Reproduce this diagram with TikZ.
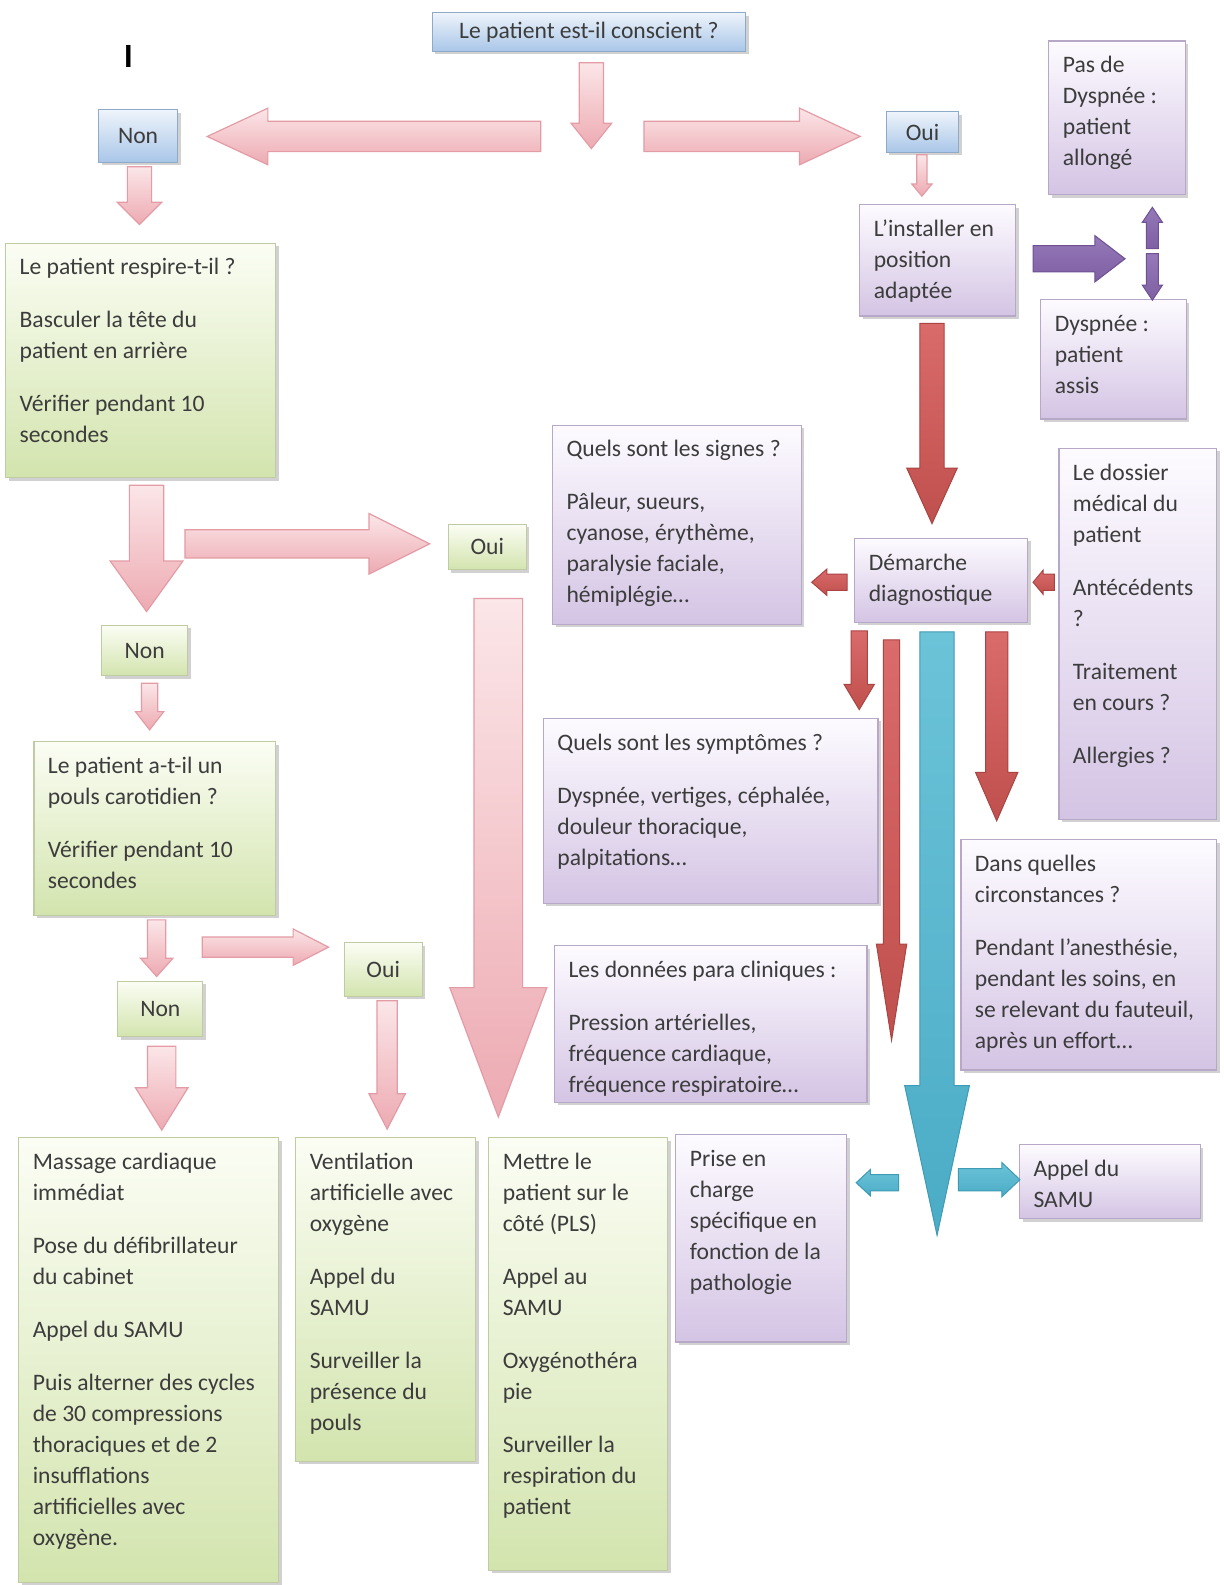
\documentclass[tikz,border=0pt]{standalone}
\usepackage{fontspec}
\setmainfont{Carlito}
\usetikzlibrary{calc,shadows}
\def\U{0.50537}
\definecolor{txt}{HTML}{3C3C3C}
\definecolor{blueT}{HTML}{EEF4FB}\definecolor{blueD}{HTML}{A9C6E8}\definecolor{blueB}{HTML}{8FA9C8}
\definecolor{greenT}{HTML}{FBFDF4}\definecolor{greenD}{HTML}{D3E4AE}\definecolor{greenB}{HTML}{BFCCA3}
\definecolor{purpT}{HTML}{FDFBFF}\definecolor{purpD}{HTML}{D4C4E4}\definecolor{purpB}{HTML}{B6A8C6}
\definecolor{pinkT}{HTML}{FBE6E8}\definecolor{pinkD}{HTML}{EDAAB2}\definecolor{pinkB}{HTML}{E39CA5}
\definecolor{redT}{HTML}{D96B6B}\definecolor{redD}{HTML}{C0504D}\definecolor{redB}{HTML}{A94442}
\definecolor{violT}{HTML}{9579B8}\definecolor{violD}{HTML}{7E5FA3}\definecolor{violB}{HTML}{6E5093}
\definecolor{cyanT}{HTML}{6BC3D8}\definecolor{cyanD}{HTML}{4BACC6}\definecolor{cyanB}{HTML}{3F9AB3}
\tikzset{
 boxbase/.style={line width=0.6pt, font=\fontsize{11.8}{15.5}\selectfont, text=txt,
   drop shadow={shadow xshift=1.5pt, shadow yshift=-1.5pt, fill=black!45, opacity=0.4}},
 bluebox/.style={boxbase, draw=blueB, top color=blueT, bottom color=blueD},
 greenbox/.style={boxbase, draw=greenB, top color=greenT, bottom color=greenD},
 purplebox/.style={boxbase, draw=purpB, top color=purpT, bottom color=purpD},
 pinkarrow/.style={top color=pinkT, bottom color=pinkD, draw=pinkB, line width=0.6pt},
 redarrow/.style={top color=redT, bottom color=redD, draw=redB, line width=0.5pt},
 violarrow/.style={top color=violT, bottom color=violD, draw=violB, line width=0.5pt},
 cyanarrow/.style={top color=cyanT, bottom color=cyanD, draw=cyanB, line width=0.5pt},
}
% text box: name, style, x1, y1, x2, y2, text
\newcommand\tbox[7]{%
 \pgfmathsetmacro\bw{(#5-#3)*\U-14}%
 \pgfmathsetmacro\bh{(#6-#4)*\U-10}%
 \node[#2, anchor=north west, inner xsep=7pt, inner ysep=5pt] (#1) at (#3,#4)
   {\begin{minipage}[c][\bh pt][t]{\bw pt}\raggedright\hyphenpenalty=10000\exhyphenpenalty=10000\hbadness=10000\strut #7\end{minipage}};}
% centred box
\newcommand\cbox[7]{%
 \pgfmathsetmacro\bw{(#5-#3)*\U}\pgfmathsetmacro\bh{(#6-#4)*\U}%
 \node[#2, anchor=north west, minimum width=\bw pt, minimum height=\bh pt, inner sep=0pt, align=center] (#1) at (#3,#4) {#7};}
% block arrow: style, from, to, shaft half width, head half width, head length (px)
\newcommand\barrow[6]{%
 \path let \p1=(#2), \p2=(#3), \n1={atan2(\y2-\y1,\x2-\x1)}, \n2={veclen(\x2-\x1,\y2-\y1)} in
  \pgfextra{\xdef\baAng{\n1}\xdef\baLen{\n2}\xdef\baX{\x1}\xdef\baY{\y1}};
 \pgfmathsetmacro\baA{\baAng}\pgfmathsetmacro\baLL{\baLen}%
 \pgfmathsetmacro\baS{#4*\U}\pgfmathsetmacro\baH{#5*\U}\pgfmathsetmacro\baL{\baLL-#6*\U}%
 \path[#1, shift={(\baX,\baY)}, rotate=\baA] (0pt,-\baS pt) -- (\baL pt,-\baS pt) -- (\baL pt,-\baH pt)
   -- (\baLL pt,0pt) -- (\baL pt,\baH pt) -- (\baL pt,\baS pt) -- (0pt,\baS pt) -- cycle;}
\newcommand\pp{\\[11pt]}
\begin{document}
\begin{tikzpicture}[x=0.50537pt, y=-0.50537pt]
\fill[white] (0,0) rectangle (1210,1568);
\useasboundingbox (0,0) rectangle (1210,1568);

\node[font=\fontsize{17}{17}\selectfont\bfseries, text=black, inner sep=0pt] (mark) at (127,56) {I};

% ---- boxes
\cbox{top}{bluebox}{427}{12}{737}{50}{Le patient est-il conscient ?}
\cbox{non1}{bluebox}{97}{108}{175}{160}{Non}
\cbox{oui1}{bluebox}{876}{110}{948}{150}{Oui}

\tbox{resp}{greenbox}{5}{240}{272}{472}{Le patient respire-t-il ?\pp Basculer la tête du\\patient en arrière\pp Vérifier pendant 10\\secondes}
\cbox{oui2}{greenbox}{443}{518}{520}{563}{Oui}
\cbox{non2}{greenbox}{100}{618}{185}{668}{Non}
\tbox{pouls}{greenbox}{33}{733}{272}{905}{Le patient a-t-il un\\pouls carotidien ?\pp Vérifier pendant 10\\secondes}
\cbox{oui3}{greenbox}{340}{932}{417}{985}{Oui}
\cbox{non3}{greenbox}{116}{970}{200}{1025}{Non}

\tbox{massage}{greenbox}{18}{1125}{275}{1565}{Massage cardiaque\\immédiat\pp Pose du défibrillateur\\du cabinet\pp Appel du SAMU\pp Puis alterner des cycles\\de 30 compressions\\thoraciques et de 2\\insufflations\\artificielles avec\\oxygène.}
\tbox{ventil}{greenbox}{292}{1125}{470}{1445}{Ventilation\\artificielle avec\\oxygène\pp Appel du\\SAMU\pp Surveiller la\\présence du\\pouls}
\tbox{pls}{greenbox}{483}{1125}{660}{1553}{Mettre le\\patient sur le\\côté (PLS)\pp Appel au\\SAMU\pp Oxygénothéra\\pie\pp Surveiller la\\respiration du\\patient}

\tbox{pasdys}{purplebox}{1037}{40}{1172}{192}{Pas de\\Dyspnée :\\patient\\allongé}
\tbox{install}{purplebox}{850}{202}{1004}{312}{L'installer en\\position\\adaptée}
\tbox{dys}{purplebox}{1029}{296}{1173}{414}{Dyspnée :\\patient\\assis}
\tbox{signes}{purplebox}{546}{420}{792}{617}{Quels sont les signes ?\pp Pâleur, sueurs,\\cyanose, érythème,\\paralysie faciale,\\hémiplégie…}
\tbox{demarche}{purplebox}{845}{532}{1016}{615}{Démarche\\diagnostique}
\tbox{dossier}{purplebox}{1047}{443}{1203}{810}{Le dossier\\médical du\\patient\pp Antécédents\\?\pp Traitement\\en cours ?\pp Allergies ?}
\tbox{sympt}{purplebox}{537}{710}{868}{893}{Quels sont les symptômes ?\pp Dyspnée, vertiges, céphalée,\\douleur thoracique,\\palpitations…}
\tbox{circ}{purplebox}{950}{830}{1203}{1058}{Dans quelles\\circonstances ?\pp Pendant l'anesthésie,\\pendant les soins, en\\se relevant du fauteuil,\\après un effort…}
\tbox{donnees}{purplebox}{548}{935}{857}{1090}{Les données para cliniques :\pp Pression artérielles,\\fréquence cardiaque,\\fréquence respiratoire…}
\tbox{prise}{purplebox}{668}{1122}{837}{1327}{Prise en\\charge\\spécifique en\\fonction de la\\pathologie}
\tbox{samu}{purplebox}{1008}{1132}{1187}{1205}{Appel du\\SAMU}

% ---- arrow end points
\coordinate (a1s) at (585,62);   \coordinate (a1e) at (585,147);
\coordinate (a2s) at (535,135);  \coordinate (a2e) at (205,135);
\coordinate (a3s) at (637,135);  \coordinate (a3e) at (851,135);
\coordinate (a4s) at (912,153);  \coordinate (a4e) at (912,194);
\coordinate (a5s) at (138,165);  \coordinate (a5e) at (138,222);
\coordinate (a6s) at (1022,256); \coordinate (a6e) at (1113,256);
\coordinate (a7s) at (1140,246); \coordinate (a7e) at (1140,205);
\coordinate (a8s) at (1140,251); \coordinate (a8e) at (1140,297);
\coordinate (a9s) at (922,320);  \coordinate (a9e) at (922,518);
\coordinate (a10s) at (145,480); \coordinate (a10e) at (145,605);
\coordinate (a11s) at (183,538); \coordinate (a11e) at (425,538);
\coordinate (a12s) at (493,592); \coordinate (a12e) at (493,1105);
\coordinate (a13s) at (148,676); \coordinate (a13e) at (148,722);
\coordinate (a14s) at (155,910); \coordinate (a14e) at (155,966);
\coordinate (a15s) at (200,937); \coordinate (a15e) at (325,937);
\coordinate (a16s) at (383,990); \coordinate (a16e) at (383,1117);
\coordinate (a17s) at (160,1035); \coordinate (a17e) at (160,1118);
\coordinate (a18s) at (838,576); \coordinate (a18e) at (803,576);
\coordinate (a19s) at (1043,576); \coordinate (a19e) at (1022,576);
\coordinate (a20s) at (850,624); \coordinate (a20e) at (850,702);
\coordinate (a21s) at (882,633); \coordinate (a21e) at (882,1029);
\coordinate (a22s) at (986,625); \coordinate (a22e) at (986,812);
\coordinate (a23s) at (927,625); \coordinate (a23e) at (927,1222);
\coordinate (a24s) at (889,1170); \coordinate (a24e) at (847,1170);
\coordinate (a25s) at (948,1167); \coordinate (a25e) at (1009,1167);

% ---- arrows
\barrow{pinkarrow}{a1s}{a1e}{12}{20}{25}
\barrow{pinkarrow}{a2s}{a2e}{15}{28}{60}
\barrow{pinkarrow}{a3s}{a3e}{15}{28}{60}
\barrow{pinkarrow}{a4s}{a4e}{5}{10}{12}
\barrow{pinkarrow}{a5s}{a5e}{12}{22}{22}
\barrow{violarrow}{a6s}{a6e}{13}{23}{30}
\barrow{violarrow}{a7s}{a7e}{6}{10}{15}
\barrow{violarrow}{a8s}{a8e}{6}{10}{15}
\barrow{redarrow}{a9s}{a9e}{12}{25}{55}
\barrow{pinkarrow}{a10s}{a10e}{17}{36}{50}
\barrow{pinkarrow}{a11s}{a11e}{14}{30}{60}
\barrow{pinkarrow}{a12s}{a12e}{24}{48}{128}
\barrow{pinkarrow}{a13s}{a13e}{8}{14}{18}
\barrow{pinkarrow}{a14s}{a14e}{9}{16}{18}
\barrow{pinkarrow}{a15s}{a15e}{10}{18}{35}
\barrow{pinkarrow}{a16s}{a16e}{10}{18}{35}
\barrow{pinkarrow}{a17s}{a17e}{14}{26}{42}
\barrow{redarrow}{a18s}{a18e}{8}{13}{15}
\barrow{redarrow}{a19s}{a19e}{8}{12}{10}
\barrow{redarrow}{a20s}{a20e}{8}{15}{25}
\barrow{redarrow}{a21s}{a21e}{8}{15}{95}
\barrow{redarrow}{a22s}{a22e}{11}{21}{48}
\barrow{cyanarrow}{a23s}{a23e}{17}{32}{148}
\barrow{cyanarrow}{a24s}{a24e}{8}{13}{14}
\barrow{cyanarrow}{a25s}{a25e}{11}{17}{18}
\end{tikzpicture}
\end{document}
